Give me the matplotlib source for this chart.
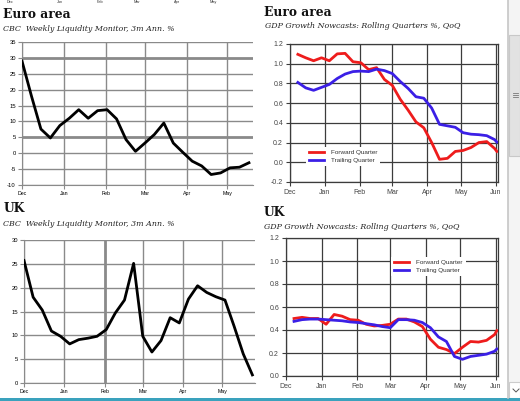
import matplotlib
matplotlib.use("Agg")
from matplotlib import pyplot as plt
from matplotlib.patches import Rectangle
from matplotlib.lines import Line2D
import pandas as pd

plt.rcParams['axes.unicode_minus'] = False
plt.rcParams['font.family'] = ['Liberation Sans', 'DejaVu Sans']

# CBC weekly liquidity monitor, 3m annualised %
ea_liq_dates = ["2019-12-01", "2019-12-08", "2019-12-15", "2019-12-22", "2019-12-29",
                "2020-01-05", "2020-01-12", "2020-01-19", "2020-01-26", "2020-02-02",
                "2020-02-09", "2020-02-16", "2020-02-23", "2020-03-01", "2020-03-08",
                "2020-03-15", "2020-03-22", "2020-03-29", "2020-04-05", "2020-04-12",
                "2020-04-19", "2020-04-26", "2020-05-03", "2020-05-10", "2020-05-17"]
ea_liq = [29, 18, 7.6, 4.8, 8.7, 11, 13.7, 11, 13.4, 13.7, 10.8, 4.3, 0.6,
          3.2, 5.9, 9.5, 3.2, 0.3, -2.5, -4, -6.7, -6.2, -4.6, -4.4, -3]

uk_liq_dates = ea_liq_dates + ["2020-05-24"]
uk_liq = [25.7, 18, 15.3, 10.9, 9.8, 8.2, 9.1, 9.4, 9.8, 11.2, 14.7, 17.4, 25.1,
          9.8, 6.5, 8.9, 13.7, 12.6, 17.6, 20.4, 19, 18.1, 17.4, 11.9, 6.1, 1.7]

# GDP growth nowcasts, rolling quarters % QoQ
gdp_dates = ["2019-12-08", "2019-12-15", "2019-12-22", "2019-12-29", "2020-01-05",
             "2020-01-12", "2020-01-19", "2020-01-26", "2020-02-02", "2020-02-09",
             "2020-02-16", "2020-02-23", "2020-03-01", "2020-03-08", "2020-03-15",
             "2020-03-22", "2020-03-29", "2020-04-05", "2020-04-12", "2020-04-19",
             "2020-04-26", "2020-05-03", "2020-05-10", "2020-05-17", "2020-05-24",
             "2020-05-31", "2020-06-02"]
ea_fwd = [1.095, 1.06, 1.03, 1.06, 1.03, 1.10, 1.105, 1.02, 1.01, 0.94, 0.96, 0.84,
          0.78, 0.64, 0.53, 0.41, 0.35, 0.20, 0.03, 0.04, 0.11, 0.12, 0.15, 0.20,
          0.21, 0.14, 0.11]
ea_trl = [0.81, 0.755, 0.73, 0.76, 0.79, 0.85, 0.895, 0.92, 0.925, 0.92, 0.945, 0.93,
          0.90, 0.82, 0.75, 0.665, 0.65, 0.55, 0.385, 0.37, 0.355, 0.30, 0.285, 0.28,
          0.27, 0.23, 0.205]
uk_fwd = [0.50, 0.51, 0.50, 0.50, 0.45, 0.535, 0.52, 0.49, 0.485, 0.45, 0.435, 0.44,
          0.45, 0.495, 0.495, 0.47, 0.43, 0.32, 0.25, 0.23, 0.195, 0.25, 0.30, 0.295,
          0.31, 0.36, 0.395]
uk_trl = [0.475, 0.49, 0.495, 0.495, 0.49, 0.485, 0.48, 0.47, 0.465, 0.455, 0.445, 0.43,
          0.42, 0.49, 0.49, 0.485, 0.465, 0.42, 0.34, 0.30, 0.17, 0.145, 0.17, 0.18,
          0.19, 0.215, 0.235]

months = ["2019-12-01", "2020-01-01", "2020-02-01", "2020-03-01", "2020-04-01",
          "2020-05-01", "2020-06-01"]
month_labels = ["Dec", "Jan", "Feb", "Mar", "Apr", "May", "Jun"]

W, H = 520, 401
fig = plt.figure(figsize=(W / 100, H / 100), dpi=100)
fig.patch.set_facecolor('white')


def box(l, t, r, b):
    return [l / W, 1 - b / H, (r - l) / W, (b - t) / H]


def liq_panel(rect, dates, vals, ylo, yhi, xend, thick_h, thick_v):
    ax = fig.add_axes(rect)
    d = pd.to_datetime(dates)
    m = pd.to_datetime(months[:6])
    for v in range(ylo, yhi + 1, 5):
        ax.axhline(v, color='#8a8a8a', lw=2.0 if v in thick_h else 1.0, zorder=1)
    for i, mm in enumerate(m):
        ax.axvline(mm, color='#8a8a8a', lw=2.0 if i in thick_v else 1.0, zorder=1)
    ax.plot(d, vals, color='black', lw=2.0, zorder=3)
    ax.set_ylim(ylo, yhi)
    ax.set_xlim(m[0], pd.Timestamp(xend))
    ax.set_yticks(range(ylo, yhi + 1, 5))
    ax.set_xticks(m)
    ax.set_xticklabels(month_labels[:6])
    for s in ['top', 'right']:
        ax.spines[s].set_visible(False)
    for s in ['left', 'bottom']:
        ax.spines[s].set_color('#8a8a8a')
    ax.tick_params(axis='both', length=3, color='#8a8a8a', labelsize=4.2, pad=1.5)
    ax.tick_params(axis='x', labelsize=3.8)
    return ax


def gdp_panel(rect, dates, fwd, trl, ylo, leg_anchor):
    ax = fig.add_axes(rect)
    d = pd.to_datetime(dates)
    m = pd.to_datetime(months)
    ax.plot(d, fwd, color='#ee1c1c', lw=2.0, zorder=3, label='Forward Quarter')
    ax.plot(d, trl, color='#3b1fe6', lw=2.0, zorder=3, label='Trailing Quarter')
    ax.set_ylim(ylo, 1.2)
    ax.set_xlim(m[0], pd.Timestamp("2020-06-03"))
    ax.set_yticks([round(v / 10, 1) for v in range(int(ylo * 10), 13, 2)])
    ax.yaxis.set_major_formatter(plt.FormatStrFormatter('%.1f'))
    ax.set_xticks(m)
    ax.set_xticklabels(month_labels)
    ax.grid(True, color='#3c3c3c', lw=0.9, zorder=1)
    ax.set_axisbelow(True)
    for s in ax.spines.values():
        s.set_color('#3c3c3c')
        s.set_linewidth(0.9)
    ax.tick_params(axis='both', length=3, color='#3c3c3c', labelsize=5,
                   labelcolor='#444444', pad=2)
    leg = ax.legend(loc='lower left', bbox_to_anchor=leg_anchor, fontsize=4.6,
                    frameon=True, fancybox=False, edgecolor='none', facecolor='white',
                    framealpha=1, handlelength=2.4, handletextpad=1.0,
                    borderpad=0.5, labelspacing=0.35)
    leg.set_zorder(5)
    for t in leg.get_texts():
        t.set_color('#333333')
    return ax


liq_panel(box(22, 42, 253, 185), ea_liq_dates, ea_liq, -10, 35, "2020-05-20", [30, 5], [])
liq_panel(box(24, 240, 255, 383), uk_liq_dates, uk_liq, 0, 30, "2020-05-26", [], [2])
gdp_panel(box(290, 44, 498, 182), gdp_dates, ea_fwd, ea_trl, -0.2, (0.06, 0.09))
gdp_panel(box(286, 238, 498, 376), gdp_dates, uk_fwd, uk_trl, 0.0, (0.48, 0.70))

title_kw = dict(family='DejaVu Serif', weight='bold', fontsize=8.8, color='#111111',
                va='center', ha='left')
sub_kw = dict(family='DejaVu Serif', style='italic', fontsize=5.7, color='#222222',
              va='center', ha='left')
fig.text(3 / W, 1 - 14 / H, "Euro area", **title_kw)
fig.text(3 / W, 1 - 29 / H, "CBC  Weekly Liquidity Monitor, 3m Ann. %", **sub_kw)
fig.text(264 / W, 1 - 12 / H, "Euro area", **title_kw)
fig.text(265 / W, 1 - 26 / H, "GDP Growth Nowcasts: Rolling Quarters %, QoQ", **sub_kw)
fig.text(4 / W, 1 - 209 / H, "UK", **title_kw)
fig.text(3 / W, 1 - 224 / H, "CBC  Weekly Liquidity Monitor, 3m Ann. %", **sub_kw)
fig.text(264 / W, 1 - 212 / H, "UK", **title_kw)
fig.text(264 / W, 1 - 227 / H, "GDP Growth Nowcasts: Rolling Quarters %, QoQ", **sub_kw)

# month labels of the chart above, at the very top edge
for x, lab in zip([10, 60, 100, 137, 177, 213], month_labels[:6]):
    fig.text(x / W, 1 - 0.3 / H, lab, fontsize=2.8, ha='center', va='top', color='#333333')

# browser scrollbar and bottom strip
fig.add_artist(Rectangle((508 / W, 1 - 398 / H), 12 / W, 398 / H, transform=fig.transFigure,
                         facecolor='#f4f4f4', edgecolor='none'))
fig.add_artist(Line2D([508 / W, 508 / W], [1 - 398 / H, 1], transform=fig.transFigure,
                      color='#c6c6c6', lw=1.2))
fig.add_artist(Rectangle((509 / W, 1 - 156 / H), 11 / W, 121 / H, transform=fig.transFigure,
                         facecolor='#e2e2e2', edgecolor='#c8c8c8', lw=0.8))
for gy in [93, 95, 97]:
    fig.add_artist(Line2D([513 / W, 518 / W], [1 - gy / H, 1 - gy / H],
                          transform=fig.transFigure, color='#777777', lw=0.6))
fig.add_artist(Rectangle((509 / W, 1 - 398 / H), 11 / W, 16 / H, transform=fig.transFigure,
                         facecolor='white', edgecolor='#cccccc', lw=0.8))
fig.add_artist(Line2D([513 / W, 516 / W, 519 / W], [1 - 389 / H, 1 - 392 / H, 1 - 389 / H],
                      transform=fig.transFigure, color='#555555', lw=0.7))
fig.add_artist(Rectangle((0, 0), 1, 3 / H, transform=fig.transFigure,
                         facecolor='#3aa2bd', edgecolor='none'))

fig.savefig("out.png", dpi=100)
